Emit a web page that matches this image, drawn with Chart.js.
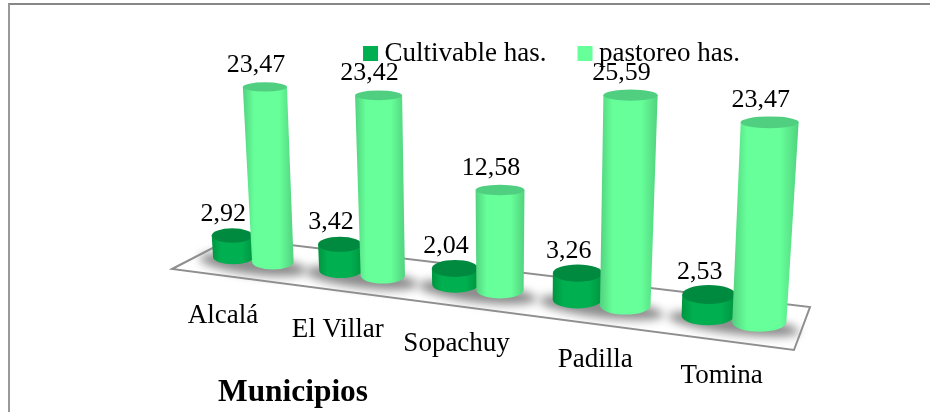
<!DOCTYPE html>
<html>
<head>
<meta charset="utf-8">
<style>
  html, body { margin: 0; padding: 0; background: #fff; overflow: hidden; }
  #frame { position: absolute; left: 8px; top: 3px; width: 930px; height: 420px; border-left: 2px solid #999; border-top: 2px solid #888; }
  canvas { position: absolute; left: 0; top: 0; }
</style>
<script src="https://cdn.jsdelivr.net/npm/chart.js@4"></script>
</head>
<body>
<div id="frame"></div>
<canvas id="grafico" width="930" height="412"></canvas>
<script>
// Datos
const municipios = ['Alcalá', 'El Villar', 'Sopachuy', 'Padilla', 'Tomina'];
const cultivable = [2.92, 3.42, 2.04, 3.26, 2.53];
const pastoreo = [23.47, 23.42, 12.58, 25.59, 23.47];

// Perspectiva del piso: x de pantalla = (A*t + B) / (1 + C*t), t = 0..1 sobre el area del grafico
const persp = { A: 480.4, B: 201.1, C: -0.1515 };
const floorLine = { x0: 233, y0: 257, slope: 0.1236 };
const floorPoly = [[172, 269], [232, 238], [810, 307], [794, 350]];
const tickNudge = [-30, -24, -21, -6, -12];
const serif = "'Liberation Serif', 'Times New Roman', serif";

const colores = [
    { body: '#00b050', edge: '#00953f', top: '#008a40' },
    { body: '#66ff99', edge: '#52d27f', top: '#50cf80' }
];

function projectX(t) {
    return (persp.A * t + persp.B) / (1 + persp.C * t);
}

function baseY(sx) {
    return floorLine.y0 + floorLine.slope * (sx - floorLine.x0);
}

// Geometria de un cilindro a partir del elemento de barra que calcula Chart.js
function cylinderOf(chart, el) {
    const area = chart.chartArea;
    const t = (el.x - area.left) / area.width;
    const dt = el.width / (2 * area.width);
    const w = 1 + persp.C * t;
    const sx = projectX(t);
    const h = (el.base - el.y) / w;
    const hw = 0.52 * (projectX(t + dt) - projectX(t - dt));
    return {
        x: sx,
        y: baseY(sx),
        hw: hw,
        h: h,
        topX: sx + (sx - 500) * h * 0.0002,
        topY: baseY(sx) - h,
        topHw: hw * (1 + h * 0.00035),
        topRy: hw * Math.max(0.22, 0.4 - h * 0.002),
        baseRy: hw * 0.36
    };
}

function drawCylinder(ctx, c, col) {
    const left = Math.min(c.x - c.hw, c.topX - c.topHw);
    const right = Math.max(c.x + c.hw, c.topX + c.topHw);
    const grad = ctx.createLinearGradient(left, 0, right, 0);
    grad.addColorStop(0, col.edge);
    grad.addColorStop(0.22, col.body);
    grad.addColorStop(0.72, col.body);
    grad.addColorStop(1, col.edge);

    ctx.beginPath();
    ctx.moveTo(c.topX - c.topHw, c.topY);
    ctx.lineTo(c.x - c.hw, c.y);
    ctx.ellipse(c.x, c.y, c.hw, c.baseRy, 0, Math.PI, 0, true);
    ctx.lineTo(c.topX + c.topHw, c.topY);
    ctx.closePath();
    ctx.fillStyle = grad;
    ctx.fill();

    ctx.beginPath();
    ctx.ellipse(c.topX, c.topY, c.topHw, c.topRy, 0, 0, Math.PI * 2);
    ctx.fillStyle = col.top;
    ctx.fill();
}

const cilindros3d = {
    id: 'cilindros3d',
    afterLayout(chart) {
        // el relleno de la leyenda separa los items, asi que se sube la caja
        chart.legend.top = 2;
    },
    beforeDatasetsDraw(chart) {
        const ctx = chart.ctx;
        ctx.save();
        ctx.beginPath();
        floorPoly.forEach((p, i) => (i ? ctx.lineTo(p[0], p[1]) : ctx.moveTo(p[0], p[1])));
        ctx.closePath();
        ctx.fillStyle = '#fff';
        ctx.fill();
        ctx.lineWidth = 2;
        ctx.strokeStyle = '#8f8f8f';
        ctx.stroke();

        // sombras bajo cada par de cilindros
        ctx.filter = 'blur(5px)';
        ctx.fillStyle = '#8c8c8c';
        municipios.forEach((m, i) => {
            const a = cylinderOf(chart, chart.getDatasetMeta(0).data[i]);
            const b = cylinderOf(chart, chart.getDatasetMeta(1).data[i]);
            ctx.beginPath();
            ctx.ellipse((a.x + b.x) / 2, (a.y + b.y) / 2 + 5, (b.x - a.x) / 2 + a.hw + 14, 10, 0.12, 0, Math.PI * 2);
            ctx.fill();
        });
        ctx.restore();
    },
    // las barras planas no se pintan: se reemplazan por cilindros
    beforeDatasetDraw() {
        return false;
    },
    afterDatasetsDraw(chart) {
        const ctx = chart.ctx;
        ctx.save();
        municipios.forEach((m, i) => {
            chart.data.datasets.forEach((ds, d) => {
                drawCylinder(ctx, cylinderOf(chart, chart.getDatasetMeta(d).data[i]), colores[d]);
            });
        });

        ctx.fillStyle = '#000';
        ctx.textAlign = 'center';
        ctx.textBaseline = 'alphabetic';
        municipios.forEach((m, i) => {
            ctx.font = '26px ' + serif;
            chart.data.datasets.forEach((ds, d) => {
                const c = cylinderOf(chart, chart.getDatasetMeta(d).data[i]);
                ctx.fillText(ds.data[i].toFixed(2).replace('.', ','), c.topX - 9, c.topY - 15);
            });
            const a = cylinderOf(chart, chart.getDatasetMeta(0).data[i]);
            const b = cylinderOf(chart, chart.getDatasetMeta(1).data[i]);
            const mx = (a.x + b.x) / 2;
            ctx.font = '27px ' + serif;
            ctx.fillText(m, mx + tickNudge[i], baseY(mx) + 64);
        });
        ctx.restore();
    }
};

new Chart(document.getElementById('grafico'), {
    type: 'bar',
    data: {
        labels: municipios,
        datasets: [
            { label: 'Cultivable has.', data: cultivable, backgroundColor: colores[0].body, clip: false },
            { label: 'pastoreo has.', data: pastoreo, backgroundColor: colores[1].body, clip: false }
        ]
    },
    options: {
        responsive: false,
        animation: false,
        layout: { padding: { left: 218, right: 38, top: 0, bottom: 0 } },
        categoryPercentage: 0.75,
        barPercentage: 1,
        scales: {
            x: { display: false },
            y: { display: false, min: 0, max: 41 }
        },
        plugins: {
            tooltip: { enabled: false },
            title: {
                display: true,
                text: 'Municipios',
                position: 'bottom',
                align: 'start',
                color: '#000',
                padding: 0,
                font: { family: serif, size: 31.4, weight: 'bold' }
            },
            legend: {
                position: 'top',
                labels: {
                    color: '#000',
                    boxWidth: 1,
                    boxHeight: 1,
                    padding: 38,
                    font: { family: serif, size: 27 },
                    generateLabels: chart => chart.data.datasets.map((ds, i) => ({
                        text: ds.label,
                        fillStyle: ds.backgroundColor,
                        strokeStyle: ds.backgroundColor,
                        lineWidth: 14,
                        datasetIndex: i,
                        hidden: false
                    }))
                }
            }
        }
    },
    plugins: [cilindros3d]
});
</script>
</body>
</html>
